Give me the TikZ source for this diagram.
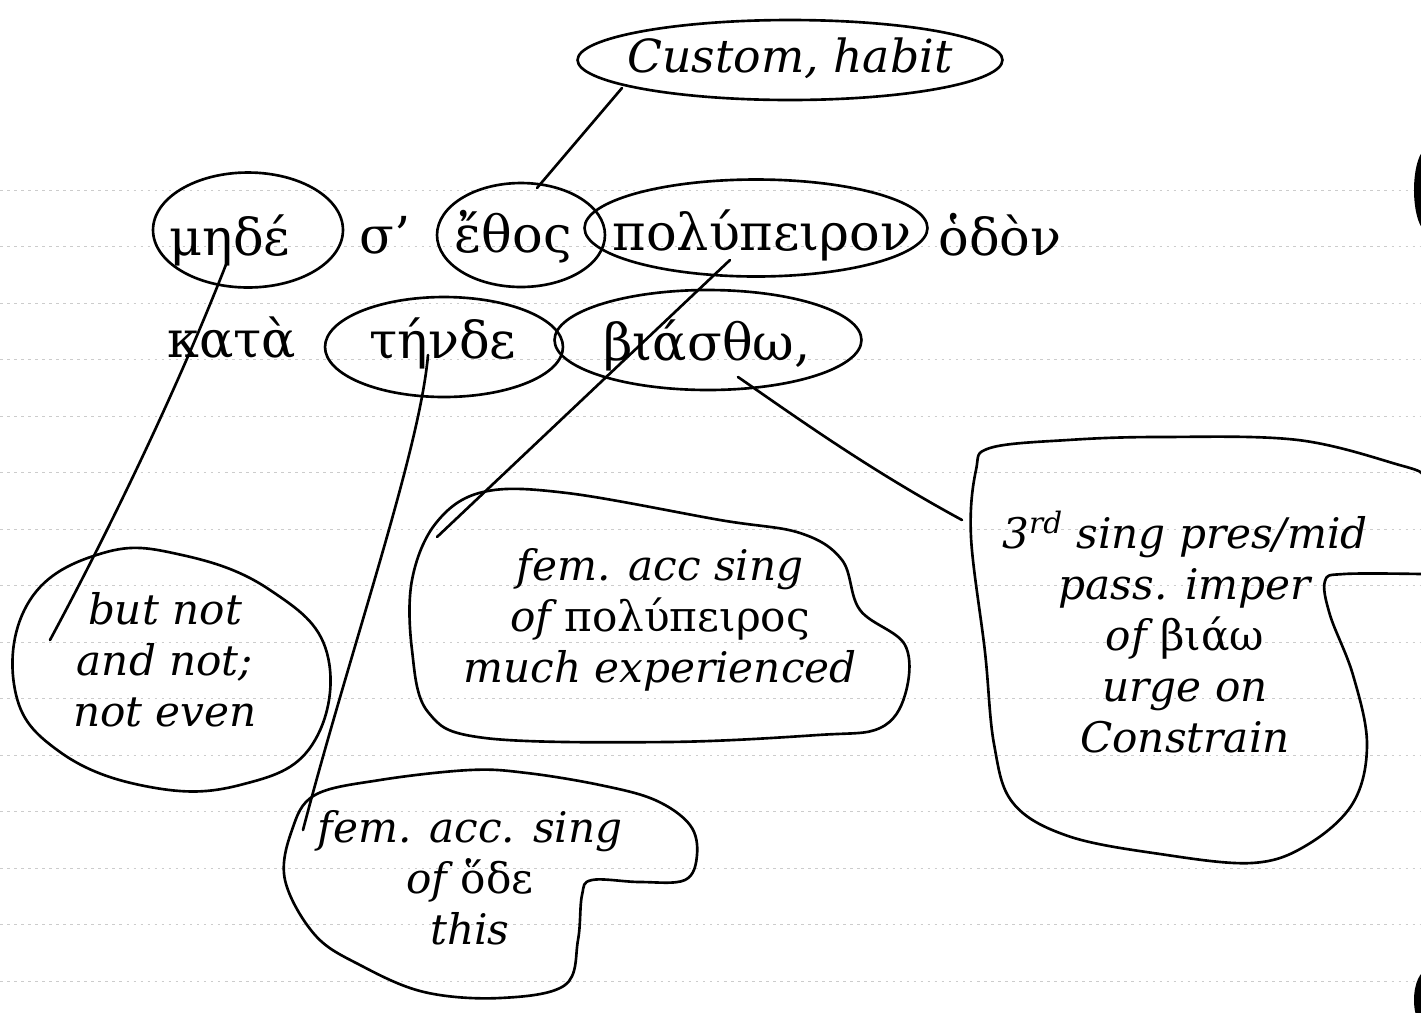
\documentclass[tikz,border=0pt]{standalone}
\usepackage{fontspec}
\setmainfont{DejaVu Serif}
\usetikzlibrary{shapes.geometric}

\tikzset{
    greek/.style={font=\fontsize{29}{34}\selectfont},
    ring/.style={draw, ellipse, line width=1.5pt, inner sep=0pt},
    gloss/.style={font=\fontsize{24}{29}\selectfont\itshape, align=center},
    pen/.style={line width=1.5pt, line cap=round, line join=round},
}

\begin{document}
\begin{tikzpicture}[x=0.02cm, y=-0.02cm]
    \useasboundingbox (0,0) rectangle (1421,1012);
    \fill[white] (0,0) rectangle (1421,1012);
    % ruled paper
    \foreach \k in {0,...,14}
        \draw[gray!40, dash pattern=on 1.5pt off 2.5pt] (0,190+56.5*\k) -- (1421,190+56.5*\k);
    \fill (1428,190) ellipse [x radius=14, y radius=42];
    \fill (1428,1000) ellipse [x radius=14, y radius=30];

    % Greek text
    \node[greek] (mede) at (230,240) {μηδέ};
    \node[greek] (sig) at (385,235) {σ’};
    \node[greek] (ethos) at (513,237) {ἔθος};
    \node[greek] (polyp) at (762,235) {πολύπειρον};
    \node[greek] (hodon) at (1000,235) {ὁδὸν};
    \node[greek] (kata) at (232,338) {κατὰ};
    \node[greek] (tende) at (443,343) {τήνδε};
    \node[greek] (biasth) at (707,345) {βιάσθω,};

    % rings round the words
    \node[ring, minimum width=3.8cm, minimum height=2.3cm] (rMede) at (248,230) {};
    \node[ring, minimum width=3.36cm, minimum height=2.08cm] (rEthos) at (521,235) {};
    \node[ring, minimum width=6.86cm, minimum height=1.94cm] (rPoly) at (756,228) {};
    \node[ring, minimum width=4.76cm, minimum height=2cm] (rTende) at (444,347) {};
    \node[ring, minimum width=6.14cm, minimum height=2cm] (rBias) at (708,340) {};

    % glosses
    \node[gloss, font=\fontsize{26}{30}\selectfont\itshape] (custom) at (790,58) {Custom, habit};
    \node[ring, minimum width=8.5cm, minimum height=1.6cm] (rCustom) at (790,60) {};
    \node[gloss] (butnot) at (165,660) {but not\\and not;\\not even};
    \node[gloss] (polyGloss) at (660,620) {fem. acc sing\\of {\upshape πολύπειρος}\\much experienced};
    \node[gloss] (odeGloss) at (470,878) {fem. acc. sing\\of {\upshape ὅδε}\\this};
    \node[gloss] (biaGloss) at (1185,632) {3\textsuperscript{rd} sing pres/mid\\pass. imper\\of {\upshape βιάω}\\urge on\\Constrain};

    % bubbles round the glosses
    \draw[pen] plot[smooth cycle, tension=0.7] coordinates {(30,600) (103,553) (182,555) (270,590) (327,653) (312,745) (240,785) (150,787) (60,752) (15,690)};
    \draw[pen] plot[smooth cycle, tension=0.6] coordinates {(436,523) (483,492) (567,493) (720,520) (800,533) (842,560) (860,610) (905,645) (905,695) (880,728) (818,735) (667,742) (485,738) (428,712) (412,650) (412,580)};
    \draw[pen] plot[smooth, tension=0.6] coordinates {(1421,473) (1403,466) (1298,440) (1160,437) (1068,440) (990,448) (976,470) (971,537) (985,652) (994,744) (1013,803) (1068,836) (1160,854) (1252,863) (1307,845) (1353,803) (1367,744) (1353,675) (1330,615) (1325,581) (1344,574) (1421,574)};
    \draw[pen] plot[smooth cycle, tension=0.6] coordinates {(315,795) (380,780) (470,770) (527,773) (600,785) (655,800) (690,825) (697,855) (685,880) (640,882) (592,880) (582,895) (578,940) (565,985) (500,998) (424,992) (360,965) (315,935) (285,880) (292,830)};

    % links
    \coordinate (cCustom) at (622,88);
    \coordinate (cEthos) at (537,188);
    \draw[pen] (cCustom) -- (cEthos);
    \coordinate (cMede) at (227,262);
    \coordinate (cButnot) at (50,640);
    \draw[pen] (cMede) .. controls (185,370) and (120,510) .. (cButnot);
    \coordinate (cPoly) at (730,260);
    \coordinate (cPolyGloss) at (437,537);
    \draw[pen] (cPoly) -- (cPolyGloss);
    \coordinate (cTende) at (428,355);
    \coordinate (cOde) at (303,830);
    \draw[pen] (cTende) .. controls (420,450) and (350,650) .. (cOde);
    \coordinate (cBias) at (738,377);
    \coordinate (cBiaGloss) at (962,520);
    \draw[pen] (cBias) .. controls (800,420) and (870,470) .. (cBiaGloss);
\end{tikzpicture}
\end{document}
